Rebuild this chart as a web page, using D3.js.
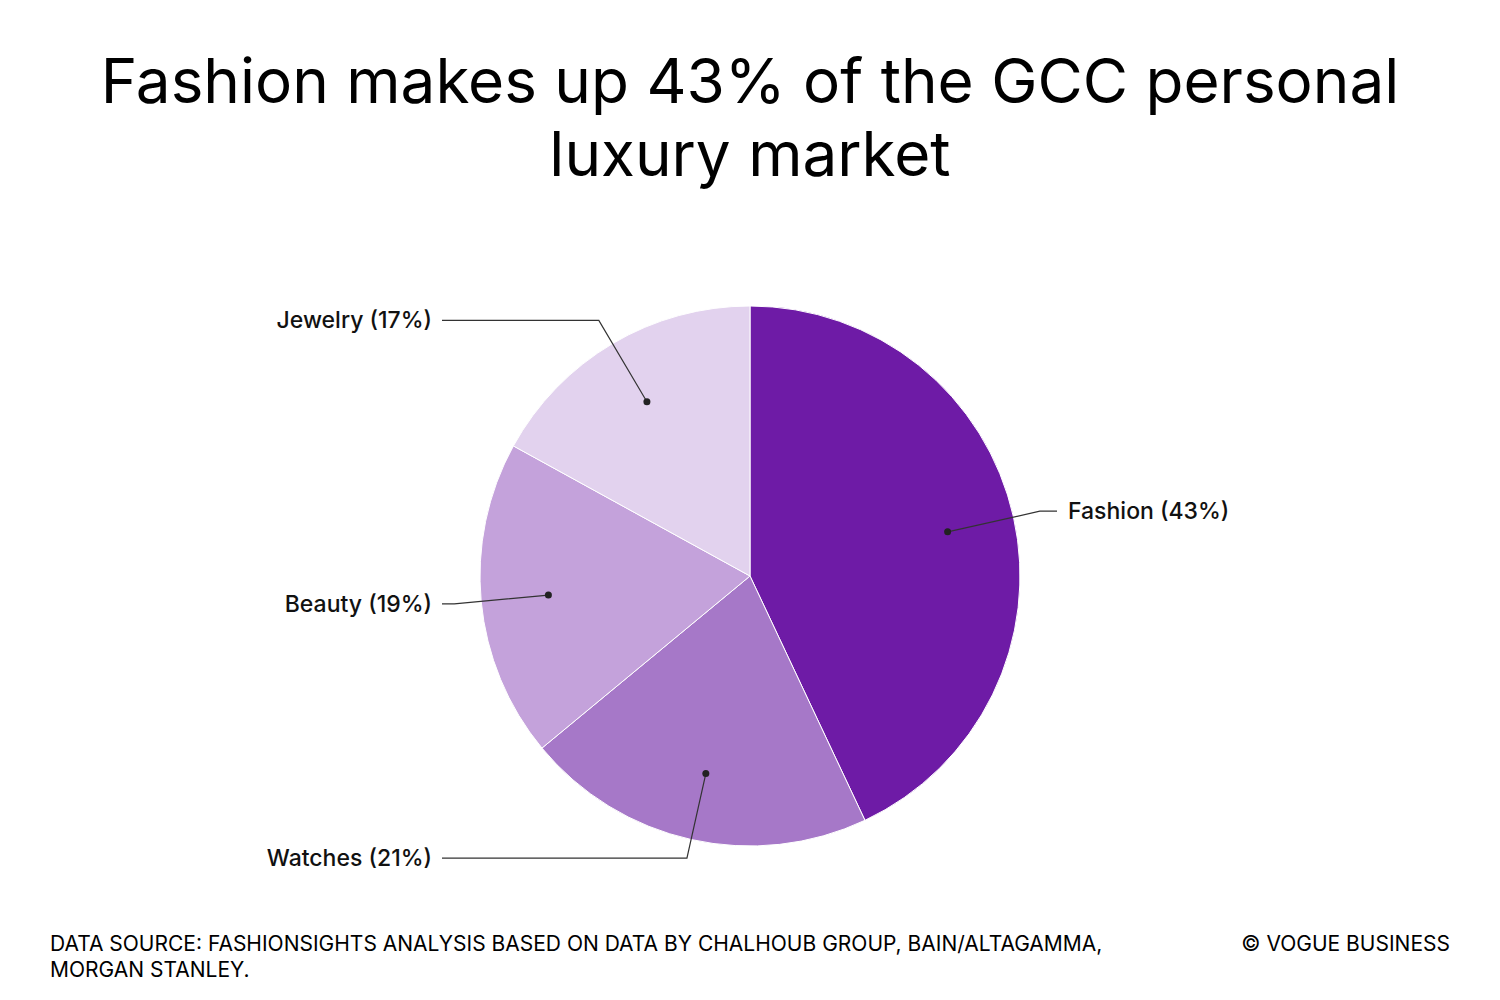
<!DOCTYPE html>
<html><head><meta charset="utf-8">
<script src="https://cdn.jsdelivr.net/npm/d3@7"></script>
<style>body{margin:0;background:#fff}</style>
</head><body>
<script>
var categories = ["Fashion", "Watches", "Beauty", "Jewelry"];
var shares = [43, 21, 19, 17];
var colors = ["#6e1ba6", "#a678c8", "#c4a2db", "#e2d2ee"];

var W = 1500, H = 1000, cx = 750, cy = 576, r = 270;
var font = "Inter, 'Noto Sans', sans-serif";

var svg = d3.select("body").append("svg").attr("width", W).attr("height", H);

svg.append("text").attr("x", W/2).attr("y", 103).attr("text-anchor", "middle")
  .attr("font-family", font).attr("font-size", 62).attr("fill", "#000")
  .text("Fashion makes up 43% of the GCC personal");
svg.append("text").attr("x", W/2).attr("y", 176).attr("text-anchor", "middle")
  .attr("font-family", font).attr("font-size", 62).attr("fill", "#000")
  .text("luxury market");

var data = categories.map(function(c, i){ return {name: c, value: shares[i], color: colors[i]}; });
var pie = d3.pie().value(function(d){ return d.value; }).sort(null);
var arcs = pie(data);
var arc = d3.arc().innerRadius(0).outerRadius(r);

var g = svg.append("g").attr("transform", "translate(" + cx + "," + cy + ")");
g.selectAll("path").data(arcs).enter().append("path")
  .attr("d", arc).attr("fill", function(d){ return d.data.color; })
  .attr("stroke", "#fff").attr("stroke-width", 1);

arcs.forEach(function(d){
  var a = (d.startAngle + d.endAngle) / 2;
  var s = Math.sin(a), c = -Math.cos(a);
  var dx = s * r * 0.75, dy = c * r * 0.75;
  var ey = Math.max(-r * 0.96, Math.min(r * 1.045, c * r * 1.1));
  var ex = ey === c * r * 1.1 ? s * r * 1.1 : dx + (ey - dy) * s / c;
  var right = s > 0;
  var hx = right ? 307 : -308;
  g.append("polyline").attr("points", [[dx,dy],[ex,ey],[hx,ey]].map(function(p){return p.join(",");}).join(" "))
    .attr("fill", "none").attr("stroke", "#333").attr("stroke-width", 1.2);
  g.append("circle").attr("cx", dx).attr("cy", dy).attr("r", 3.5).attr("fill", "#222");
  g.append("text").attr("x", right ? hx + 11 : hx - 10).attr("y", ey + 8)
    .attr("text-anchor", right ? "start" : "end")
    .attr("font-family", font).attr("font-size", 23).attr("font-weight", 500).attr("fill", "#111")
    .text(d.data.name + " (" + d.data.value + "%)");
});

var foot = [["DATA SOURCE: FASHIONSIGHTS ANALYSIS BASED ON DATA BY CHALHOUB GROUP, BAIN/ALTAGAMMA,", 951], ["MORGAN STANLEY.", 977]];
foot.forEach(function(f){
  svg.append("text").attr("x", 50).attr("y", f[1]).attr("font-family", font).attr("font-size", 21).attr("fill", "#000").text(f[0]);
});
svg.append("text").attr("x", 1450).attr("y", 951).attr("text-anchor", "end").attr("font-family", font).attr("font-size", 21).attr("fill", "#000")
  .text("© VOGUE BUSINESS");
</script>
</body></html>
